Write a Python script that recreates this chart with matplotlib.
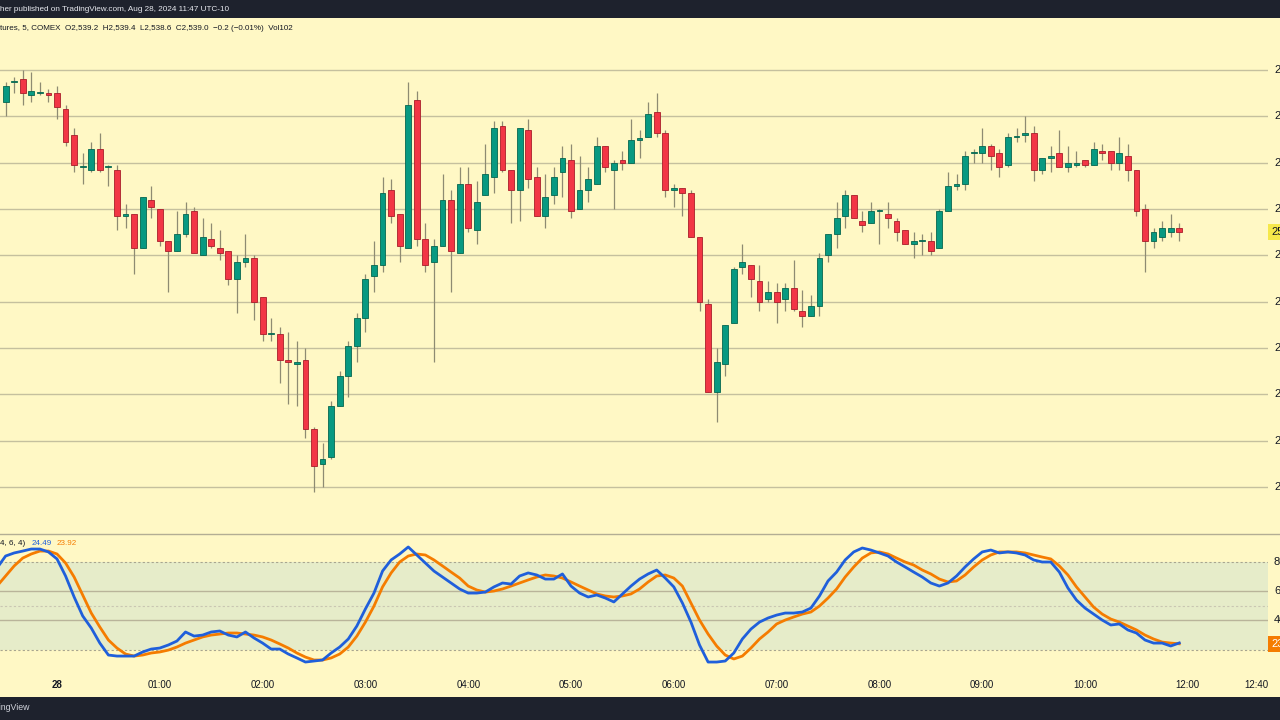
import matplotlib
matplotlib.use("Agg")
import matplotlib.pyplot as plt
from matplotlib.patches import Rectangle
from matplotlib.lines import Line2D
import matplotlib.transforms as mtransforms
import numpy as np

# ---------------- data (5-min gold futures, COMEX) ----------------
first_bar = -6  # bar index relative to 00:00 ("28")
opens = [2544.6, 2545.5, 2545.6, 2544.9, 2545.0, 2545.0, 2545.0, 2544.3, 2543.2, 2541.8,
         2541.7, 2542.6, 2541.8, 2541.7, 2539.7, 2539.8, 2538.3, 2540.4, 2540.0, 2538.6,
         2538.2, 2538.9, 2539.9, 2538.0, 2538.7, 2538.3, 2538.2, 2537.0, 2537.7, 2537.9,
         2536.2, 2534.6, 2534.6, 2533.5, 2533.3, 2533.5, 2530.5, 2529.0, 2529.3, 2531.5,
         2532.8, 2534.1, 2535.3, 2537.1, 2537.6, 2540.8, 2539.8, 2538.3, 2544.7, 2538.7,
         2537.7, 2538.4, 2540.4, 2538.1, 2541.1, 2539.1, 2540.6, 2541.4, 2543.6, 2541.7,
         2540.8, 2543.4, 2541.4, 2539.7, 2540.6, 2541.6, 2542.1, 2540.0, 2540.8, 2541.1,
         2542.7, 2541.7, 2542.1, 2542.0, 2543.0, 2543.1, 2544.2, 2543.3, 2540.8, 2540.9,
         2540.7, 2538.8, 2535.9, 2532.1, 2533.3, 2535.1, 2537.5, 2537.6, 2536.9, 2536.1,
         2536.4, 2536.1, 2536.6, 2535.6, 2535.4, 2535.8, 2538.0, 2538.9, 2539.7, 2540.6,
         2539.5, 2539.4, 2539.9, 2539.8, 2539.5, 2539.1, 2538.5, 2538.6, 2538.6, 2538.3,
         2539.9, 2541.0, 2541.1, 2542.4, 2542.4, 2542.7, 2542.4, 2541.9, 2543.1, 2543.2,
         2543.3, 2541.7, 2542.2, 2542.4, 2541.8, 2541.9, 2542.1, 2541.9, 2542.5, 2542.5,
         2542.0, 2542.3, 2541.7, 2540.0, 2538.6, 2538.8, 2539.0, 2539.2]
highs = [2545.5, 2545.7, 2546.0, 2545.9, 2545.5, 2545.2, 2545.3, 2544.5, 2543.5, 2542.4,
         2542.9, 2543.3, 2541.9, 2541.9, 2540.2, 2539.8, 2540.5, 2541.0, 2540.0, 2538.6,
         2539.9, 2540.3, 2540.1, 2539.6, 2539.4, 2539.1, 2538.2, 2538.0, 2538.9, 2538.0,
         2536.2, 2535.3, 2534.9, 2534.7, 2534.3, 2534.0, 2530.6, 2529.9, 2531.7, 2533.0,
         2534.3, 2535.5, 2537.2, 2538.6, 2541.4, 2541.3, 2539.8, 2545.5, 2545.1, 2539.4,
         2538.7, 2541.5, 2540.8, 2541.8, 2541.8, 2541.2, 2542.8, 2543.8, 2543.8, 2541.7,
         2543.5, 2543.9, 2541.8, 2541.5, 2541.8, 2542.7, 2542.8, 2542.3, 2541.8, 2543.1,
         2542.7, 2542.1, 2542.5, 2543.9, 2543.4, 2544.6, 2545.0, 2543.4, 2541.1, 2540.9,
         2540.8, 2538.8, 2536.1, 2534.0, 2535.0, 2537.5, 2538.5, 2537.6, 2537.6, 2536.9,
         2536.8, 2536.8, 2537.8, 2536.5, 2536.3, 2538.1, 2538.9, 2540.3, 2540.8, 2540.6,
         2539.9, 2540.3, 2540.0, 2540.3, 2539.6, 2539.1, 2539.0, 2538.9, 2539.0, 2540.0,
         2541.6, 2541.5, 2542.5, 2542.6, 2543.5, 2542.8, 2542.6, 2543.3, 2543.5, 2544.0,
         2543.6, 2542.2, 2542.7, 2543.4, 2542.7, 2542.5, 2542.1, 2542.9, 2542.8, 2542.5,
         2543.1, 2542.8, 2541.7, 2540.2, 2539.2, 2539.5, 2539.8, 2539.4]
lows = [2544.0, 2545.0, 2544.5, 2544.6, 2544.9, 2544.6, 2543.9, 2542.7, 2541.6, 2541.1,
        2541.6, 2541.6, 2541.0, 2539.1, 2539.2, 2537.2, 2538.3, 2539.6, 2538.4, 2536.4,
        2538.2, 2538.8, 2538.1, 2538.0, 2538.3, 2537.8, 2536.7, 2535.5, 2537.5, 2535.2,
        2534.3, 2534.3, 2532.5, 2531.6, 2531.5, 2530.1, 2527.8, 2528.0, 2529.2, 2531.5,
        2531.9, 2533.4, 2534.7, 2536.4, 2537.3, 2539.4, 2537.7, 2538.3, 2538.4, 2537.3,
        2533.4, 2538.4, 2536.4, 2538.1, 2539.0, 2538.5, 2540.6, 2540.7, 2541.6, 2539.4,
        2539.5, 2540.9, 2539.7, 2539.2, 2540.2, 2540.5, 2539.6, 2540.0, 2540.3, 2541.1,
        2541.6, 2540.0, 2541.7, 2542.0, 2542.2, 2543.1, 2543.1, 2540.5, 2540.1, 2539.7,
        2538.8, 2535.6, 2532.1, 2530.8, 2532.8, 2535.1, 2537.2, 2536.2, 2535.6, 2536.0,
        2535.1, 2535.6, 2535.6, 2534.9, 2535.4, 2535.4, 2537.7, 2538.3, 2539.2, 2539.6,
        2539.0, 2539.4, 2538.5, 2539.2, 2538.6, 2538.5, 2537.9, 2538.0, 2538.0, 2538.3,
        2539.9, 2540.8, 2540.8, 2542.0, 2542.0, 2541.7, 2541.4, 2541.8, 2542.9, 2542.9,
        2541.2, 2541.5, 2541.6, 2541.8, 2541.6, 2541.8, 2541.8, 2541.9, 2542.1, 2541.7,
        2541.7, 2541.2, 2539.7, 2537.3, 2538.3, 2538.6, 2538.8, 2538.6]
closes = [2545.3, 2545.5, 2545.0, 2545.1, 2545.0, 2544.9, 2544.4, 2542.9, 2541.9, 2541.8,
          2542.6, 2541.7, 2541.8, 2539.7, 2539.8, 2538.3, 2540.5, 2540.1, 2538.6, 2538.2,
          2538.9, 2539.8, 2538.1, 2538.8, 2538.4, 2538.1, 2537.0, 2537.7, 2537.9, 2536.0,
          2534.6, 2534.6, 2533.5, 2533.4, 2533.4, 2530.5, 2528.9, 2529.2, 2531.5, 2532.8,
          2534.1, 2535.3, 2537.0, 2537.6, 2540.7, 2539.7, 2538.4, 2544.5, 2538.7, 2537.6,
          2538.4, 2540.4, 2538.2, 2541.1, 2539.2, 2540.3, 2541.5, 2543.5, 2541.7, 2540.8,
          2543.5, 2541.3, 2539.7, 2540.5, 2541.4, 2542.2, 2539.9, 2540.8, 2541.3, 2542.7,
          2541.8, 2542.0, 2542.0, 2543.0, 2543.0, 2544.1, 2543.3, 2540.8, 2540.9, 2540.7,
          2538.8, 2536.0, 2532.1, 2533.4, 2535.0, 2537.4, 2537.7, 2537.0, 2536.0, 2536.4,
          2536.0, 2536.6, 2535.7, 2535.4, 2535.8, 2537.9, 2538.9, 2539.6, 2540.6, 2539.6,
          2539.3, 2539.9, 2539.9, 2539.6, 2539.0, 2538.5, 2538.6, 2538.6, 2538.2, 2539.9,
          2541.0, 2541.1, 2542.3, 2542.4, 2542.7, 2542.3, 2541.8, 2543.1, 2543.1, 2543.3,
          2541.7, 2542.2, 2542.3, 2541.8, 2542.0, 2542.0, 2541.9, 2542.6, 2542.4, 2542.0,
          2542.4, 2541.7, 2539.9, 2538.6, 2539.0, 2539.2, 2539.2, 2539.0]

stoch_first = -7
stoch_k = [75.9, 84.1, 86.2, 87.5, 88.9, 88.9, 86.9, 82.1, 70.4, 56.0,
           43.0, 34.7, 24.4, 16.2, 15.5, 15.5, 15.5, 18.3, 20.3, 21.0,
           23.1, 25.8, 32.0, 29.2, 29.9, 32.0, 32.7, 29.9, 28.6, 32.0,
           27.9, 24.4, 20.3, 20.3, 16.9, 14.2, 11.4, 12.1, 12.8, 17.6,
           21.7, 27.2, 36.1, 47.8, 58.7, 73.8, 81.4, 85.5, 90.3, 84.8,
           79.3, 73.8, 69.7, 65.6, 61.5, 58.7, 58.7, 59.4, 62.9, 65.6,
           64.9, 70.4, 72.5, 71.1, 68.3, 68.3, 71.8, 63.5, 58.7, 56.0,
           57.4, 55.3, 52.6, 58.1, 63.5, 68.3, 71.8, 74.5, 69.0, 62.9,
           51.9, 38.8, 23.1, 11.4, 11.4, 12.1, 17.6, 27.2, 34.0, 38.8,
           41.6, 43.6, 45.0, 45.0, 45.7, 48.4, 56.7, 67.0, 73.1, 81.4,
           86.9, 89.6, 88.2, 86.2, 84.1, 80.0, 76.6, 73.1, 69.7, 65.6,
           63.5, 65.6, 70.4, 76.6, 82.1, 86.9, 88.2, 86.2, 86.9, 86.2,
           84.8, 81.4, 80.0, 80.0, 73.1, 62.2, 53.9, 48.4, 44.3, 40.2,
           36.8, 37.5, 33.4, 31.3, 26.5, 24.4, 24.4, 22.4, 24.49]
stoch_d = [63.5, 70.4, 77.3, 82.7, 85.5, 87.5, 87.5, 85.5, 79.3, 69.7,
           57.4, 45.0, 35.4, 26.5, 21.0, 16.9, 15.5, 16.2, 17.6, 18.3,
           19.6, 21.7, 24.4, 26.5, 28.6, 29.9, 30.6, 31.3, 31.3, 30.6,
           29.9, 28.6, 26.5, 23.8, 21.0, 17.6, 14.8, 12.8, 12.8, 14.2,
           16.9, 21.7, 29.2, 38.8, 49.8, 62.9, 72.5, 80.0, 84.1, 85.5,
           84.8, 81.4, 77.3, 73.1, 69.0, 63.5, 60.8, 59.4, 60.1, 61.5,
           63.5, 65.6, 67.7, 69.7, 71.1, 70.4, 69.0, 66.3, 63.5, 60.8,
           58.1, 56.7, 56.0, 56.7, 58.1, 61.5, 66.3, 70.4, 71.1, 69.0,
           63.5, 51.9, 40.2, 30.6, 22.4, 16.2, 13.5, 15.5, 21.0, 27.2,
           32.0, 37.5, 40.2, 42.3, 44.3, 45.7, 49.8, 55.3, 61.5, 69.7,
           76.6, 82.7, 86.2, 86.9, 85.5, 82.7, 80.0, 77.9, 74.5, 71.8,
           68.3, 66.3, 67.0, 71.1, 76.6, 81.4, 84.8, 86.9, 86.9, 86.9,
           86.2, 84.8, 83.4, 82.1, 77.3, 71.1, 62.9, 56.0, 49.1, 44.3,
           40.9, 38.8, 36.1, 33.4, 29.9, 27.2, 25.1, 24.4, 23.92]

time_ticks = [0, 12, 24, 36, 48, 60, 72, 84, 96, 108, 120, 132, 140]
time_labels = ["28", "01:00", "02:00", "03:00", "04:00", "05:00", "06:00",
               "07:00", "08:00", "09:00", "10:00", "12:00", "12:40"]
price_levels = [2528, 2530, 2532, 2534, 2536, 2538, 2540, 2542, 2544, 2546]
last_price = 2539.0
k_last = 24.49
d_last = 23.92

# ---------------- style ----------------
BG = "#FFF8C5"
DARK = "#1E222D"
GRID = "#C5C09E"
TXT = "#131722"
UP = "#089981"
UP_EDGE = "#05664F"
DN = "#F23645"
DN_EDGE = "#A81E2A"
WICK = "#8E8B72"
BLUE = "#1F5FDB"
ORANGE = "#F57C00"
BAND = "#E6ECC9"

plt.rcParams['font.family'] = ['Liberation Sans', 'DejaVu Sans']

W, H = 1280, 720
fig = plt.figure(figsize=(12.8, 7.2), dpi=100)
fig.patch.set_facecolor(BG)


def fy(py):
    return 1 - py / H


plot_right = 1268
xlim = (-57 / 8.567, (plot_right - 57) / 8.567)

# ---------------- main price pane ----------------
ax = fig.add_axes([0, fy(533), plot_right / W, (533 - 18) / H])
ax.set_facecolor(BG)
px_per = (487 - 70) / 18.0
ax.set_ylim(2528 - (533 - 487) / px_per, 2546 + (70 - 18) / px_per)
ax.set_xlim(*xlim)
for s in ax.spines.values():
    s.set_visible(False)
ax.set_xticks([])
ax.set_yticks([])
for lv in price_levels:
    ax.axhline(lv, color=GRID, lw=1.0, zorder=0)

o = np.array(opens)
h = np.array(highs)
l = np.array(lows)
c = np.array(closes)
xs = np.arange(first_bar, first_bar + len(o))
up = c >= o
ax.vlines(xs, l, h, color=WICK, lw=0.9, zorder=2)
bottoms = np.minimum(o, c)
heights = np.maximum(np.abs(c - o), 0.045)
ax.bar(xs[up], heights[up], bottom=bottoms[up], width=0.68,
       color=UP, edgecolor=UP_EDGE, linewidth=0.6, zorder=3)
ax.bar(xs[~up], heights[~up], bottom=bottoms[~up], width=0.68,
       color=DN, edgecolor=DN_EDGE, linewidth=0.6, zorder=3)

ytr = ax.get_yaxis_transform()
x_lab = 1274 / plot_right
for lv in price_levels:
    ax.text(x_lab, lv, f"{lv:.1f}", transform=ytr, ha="left", va="center",
            fontsize=8, color=TXT, clip_on=False)
ax.text(1271 / plot_right, last_price, f"{last_price:.1f}", transform=ytr,
        ha="left", va="center", fontsize=8, color=TXT, clip_on=False,
        bbox=dict(facecolor="#F6E84A", edgecolor="none", pad=2.2), zorder=6)

# ---------------- stochastic pane ----------------
ax2 = fig.add_axes([0, fy(673), plot_right / W, (673 - 535) / H])
ax2.set_facecolor(BG)
kpx = (649.5 - 562) / 60.0
ax2.set_ylim(20 - (673 - 649.5) / kpx, 80 + (562 - 535) / kpx)
ax2.set_xlim(*xlim)
for s in ax2.spines.values():
    s.set_visible(False)
ax2.set_xticks([])
ax2.set_yticks([])
ax2.axhspan(20, 80, color=BAND, zorder=0, lw=0)
for lv in [40, 60]:
    ax2.axhline(lv, color="#B9B49A", lw=1.0, zorder=1)
for lv in [20, 80]:
    ax2.axhline(lv, color="#A8A58F", lw=0.8, ls=(0, (2, 2)), zorder=1)
ax2.axhline(50, color="#C9C6B2", lw=0.8, ls=(0, (2, 2)), zorder=1)

sx = np.arange(stoch_first, stoch_first + len(stoch_k))
ax2.plot(sx, stoch_d, color=ORANGE, lw=2.0, zorder=3, solid_joinstyle="round")
ax2.plot(sx, stoch_k, color=BLUE, lw=2.0, zorder=4, solid_joinstyle="round")

ytr2 = ax2.get_yaxis_transform()
for lv in [80, 60, 40]:
    ax2.text(x_lab, lv, f"{lv:.2f}", transform=ytr2, ha="left", va="center",
             fontsize=8, color=TXT, clip_on=False)
ax2.text(1271 / plot_right, d_last, f"{d_last:.2f}", transform=ytr2,
         ha="left", va="center", fontsize=8, color="white", clip_on=False,
         bbox=dict(facecolor=ORANGE, edgecolor="none", pad=2.2), zorder=6)

# time axis labels
xtr = mtransforms.blended_transform_factory(ax2.transData, ax2.transAxes)
ylab = (673 - 685) / (673 - 535)
for t, lab in zip(time_ticks, time_labels):
    ax2.text(t, ylab, lab, transform=xtr, ha="center", va="center",
             fontsize=7, color=TXT, clip_on=False,
             fontweight="bold" if lab == "28" else "normal")

# ---------------- frame pieces ----------------
fig.add_artist(Rectangle((0, fy(18)), 1, 18 / H, transform=fig.transFigure,
                         facecolor=DARK, edgecolor="none", zorder=10))
fig.text(0.0, fy(9.5), "her published on TradingView.com, Aug 28, 2024 11:47 UTC-10",
         ha="left", va="center", fontsize=5.9, color="#E6E8EE", zorder=11)
fig.add_artist(Rectangle((0, 0), 1, 23 / H, transform=fig.transFigure,
                         facecolor=DARK, edgecolor="none", zorder=10))
fig.text(30 / W, fy(708), "TradingView", ha="right", va="center",
         fontsize=6.3, color="#D1D4DC", zorder=11)
fig.add_artist(Line2D([0, 1], [fy(533.5), fy(533.5)], transform=fig.transFigure,
                      color="#B3AE94", lw=1.0, zorder=9))

fig.text(0.0, fy(28), "tures, 5, COMEX  O2,539.2  H2,539.4  L2,538.6  C2,539.0  \u22120.2 (\u22120.01%)  Vol102",
         ha="left", va="center", fontsize=5.8, color=TXT)
fig.text(0.0, fy(543.5), "4, 6, 4)", ha="left", va="center", fontsize=5.8, color=TXT)
fig.text(32 / W, fy(543.5), f"{k_last:.2f}", ha="left", va="center", fontsize=5.8, color=BLUE)
fig.text(57 / W, fy(543.5), f"{d_last:.2f}", ha="left", va="center", fontsize=5.8, color=ORANGE)

fig.savefig("out.png", dpi=100, facecolor=BG)
